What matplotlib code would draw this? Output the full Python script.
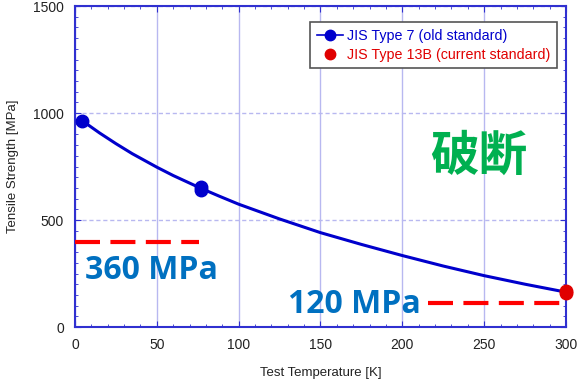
import numpy as np
import matplotlib.pyplot as plt
from matplotlib.ticker import MultipleLocator

old_T = [4.3, 77, 77]
old_S = [965, 655, 640]
new_T = [300, 300]
new_S = [170, 158]

fit_T = [4.3, 10, 15, 25, 35, 50, 60, 77, 88, 100, 125, 150, 175, 200, 225, 250, 275, 300]
fit_S = [965, 934, 907, 857, 810, 747, 708, 648, 612, 574, 505, 441, 386, 334, 285, 240, 200, 163]

# requirement lines
req1_T, req1_S = [0, 76], [395, 395]
req2_T, req2_S = [216, 300], [114, 114]

blue = '#0000CC'
red = '#E00000'

fig = plt.figure(figsize=(5.79, 3.83), dpi=100)
ax = fig.add_axes([0.1295, 0.1462, 0.848, 0.838])

ax.plot(fit_T, fit_S, color=blue, lw=2.2, zorder=3)
ax.plot(old_T, old_S, 'o', color=blue, ms=9, zorder=4)
ax.plot(new_T, new_S, 'o', color=red, ms=9, zorder=5, clip_on=False)

# legend handles
h1, = ax.plot([], [], '-o', color=blue, lw=1.2, ms=7.5, label='JIS Type 7 (old standard)')
h2, = ax.plot([], [], 'o', color=red, ms=7.5, label='JIS Type 13B (current standard)')

ax.plot(req1_T, req1_S, color='#FF0000', lw=3, dashes=(6, 2.5), zorder=6, clip_on=False)
ax.plot(req2_T, req2_S, color='#FF0000', lw=3, dashes=(6, 2.5), zorder=6, clip_on=False)

ax.set_xlim(0, 300)
ax.set_ylim(0, 1500)
ax.xaxis.set_major_locator(MultipleLocator(50))
ax.xaxis.set_minor_locator(MultipleLocator(10))
ax.yaxis.set_major_locator(MultipleLocator(500))
ax.yaxis.set_minor_locator(MultipleLocator(50))

ax.grid(True, axis='x', color='#B8B8F0', lw=1)
ax.grid(True, axis='y', color='#B8B8F0', lw=1, ls=(0, (3, 2)))
ax.set_axisbelow(True)

for s in ax.spines.values():
    s.set_color('#3030D0')
    s.set_linewidth(1.5)
ax.tick_params(which='both', direction='in', top=True, right=True, color='#3030D0')
ax.tick_params(which='major', length=4, labelsize=10, pad=8, labelcolor='#222222')
ax.tick_params(which='minor', length=2.5)
for lab in ax.get_xticklabels() + ax.get_yticklabels():
    lab.set_family('Liberation Sans')

ax.set_xlabel('Test Temperature [K]', family='Liberation Sans', fontsize=9.5, color='#222222', labelpad=11)
ax.set_ylabel('Tensile Strength [MPa]', family='Liberation Sans', fontsize=9.5, color='#222222', labelpad=10)

leg = ax.legend(handles=[h1, h2], loc='upper right', bbox_to_anchor=(0.99, 0.963),
                prop={'family': 'Liberation Sans', 'size': 10.3}, fancybox=False,
                edgecolor='#555555', framealpha=1, handlelength=1.8, handletextpad=0.3,
                borderpad=0.45, labelspacing=0.35, borderaxespad=0.3)
leg.get_frame().set_linewidth(1.2)
for t, c in zip(leg.get_texts(), [blue, red]):
    t.set_color(c)

ax.text(6, 265, '360 MPa', color='#0070C0', fontsize=23, fontweight='bold',
        family='Open Sans', va='center', ha='left', zorder=7)
ax.text(211, 107, '120 MPa', color='#0070C0', fontsize=23, fontweight='bold',
        family='Open Sans', va='center', ha='right', zorder=7)
ax.text(247, 800, '破断', color='#00B050', fontsize=35, fontweight='bold',
        family=['Noto Sans CJK JP', 'DejaVu Sans'], va='center', ha='center', zorder=7)

fig.savefig('out.png', dpi=100)
